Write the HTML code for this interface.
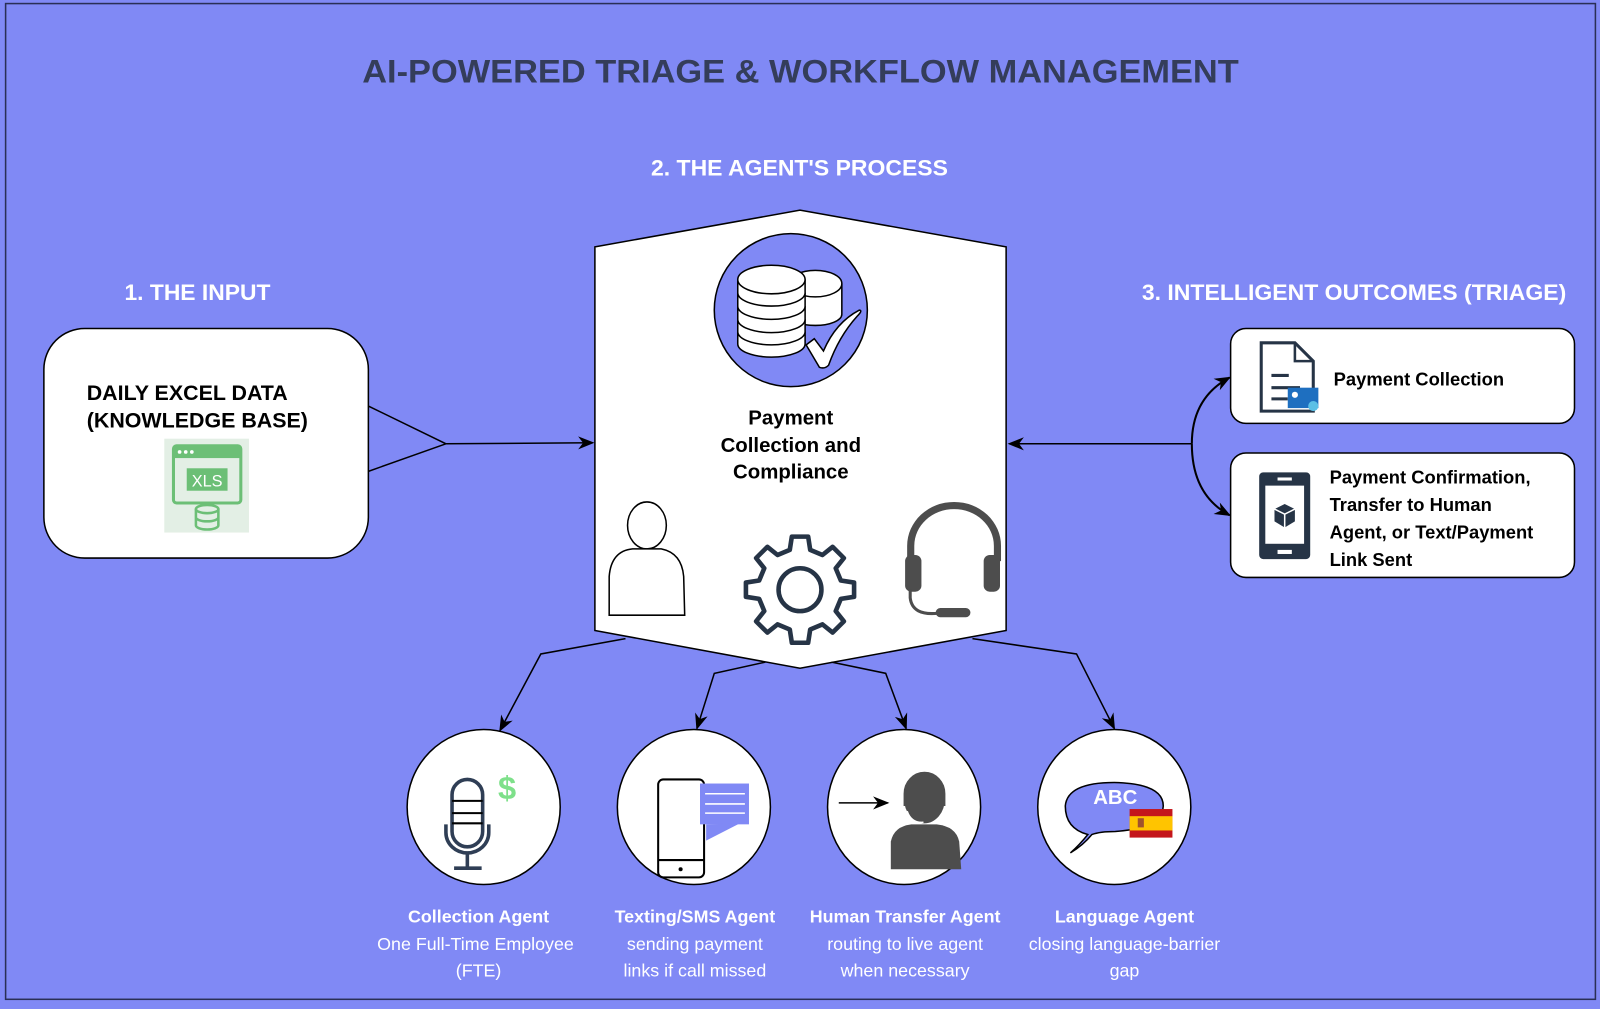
<!DOCTYPE html>
<html><head><meta charset="utf-8"><style>
html,body{margin:0;padding:0;background:#8089f5;}
svg{display:block;}
text{font-family:"Liberation Sans",Arial,sans-serif;}
</style></head><body>
<svg width="1600" height="1009" viewBox="0 0 1568 989" preserveAspectRatio="none" xmlns="http://www.w3.org/2000/svg">
<defs>
<marker id="ar2" viewBox="0 0 10 10" refX="9" refY="5" markerWidth="16" markerHeight="16" orient="auto" markerUnits="userSpaceOnUse"><path d="M0,1 L10,5 L0,9 L3,5 z" fill="#000"/></marker>
</defs>
<rect x="0" y="0" width="1568" height="989" fill="#8089f5"/>
<rect x="5.5" y="3.5" width="1558" height="976" fill="none" stroke="#2a2f55" stroke-width="1.5"/>

<text x="355" y="81" textLength="859" lengthAdjust="spacingAndGlyphs" font-size="32" font-weight="bold" fill="#343d5a">AI-POWERED TRIAGE &amp; WORKFLOW MANAGEMENT</text>
<text x="638" y="172" textLength="291" lengthAdjust="spacingAndGlyphs" font-size="22" font-weight="bold" fill="#fff">2. THE AGENT'S PROCESS</text>
<text x="122" y="294" textLength="143" lengthAdjust="spacingAndGlyphs" font-size="22" font-weight="bold" fill="#fff">1. THE INPUT</text>
<text x="1119" y="294" textLength="416" lengthAdjust="spacingAndGlyphs" font-size="22" font-weight="bold" fill="#fff">3. INTELLIGENT OUTCOMES (TRIAGE)</text>

<!-- input box -->
<rect x="43" y="322" width="318" height="225" rx="40" fill="#fff" stroke="#000" stroke-width="1.5"/>
<text x="85" y="392" font-size="21" font-weight="bold" fill="#000">DAILY EXCEL DATA</text>
<text x="85" y="419" font-size="21" font-weight="bold" fill="#000">(KNOWLEDGE BASE)</text>
<rect x="161" y="430" width="83" height="92" fill="#e3efe5"/>
<rect x="170" y="437" width="66" height="56" rx="3" fill="none" stroke="#6cbf76" stroke-width="3"/>
<rect x="170" y="437" width="66" height="12" fill="#6cbf76"/>
<circle cx="176" cy="443" r="1.8" fill="#fff"/><circle cx="182" cy="443" r="1.8" fill="#fff"/><circle cx="188" cy="443" r="1.8" fill="#fff"/>
<rect x="183" y="459" width="40" height="22" fill="#6cbf76"/>
<text x="203" y="477" text-anchor="middle" font-size="16" fill="#fff">XLS</text>
<ellipse cx="203" cy="499" rx="11" ry="4" fill="#e3efe5" stroke="#6cbf76" stroke-width="2.5"/>
<path d="M192,499 v16 a11,4 0 0 0 22,0 v-16 M192,507 a11,4 0 0 0 22,0" fill="none" stroke="#6cbf76" stroke-width="2.5"/>

<path d="M361,398 L437,435 L361,462" fill="none" stroke="#000" stroke-width="1.5"/>
<line x1="437" y1="435" x2="581" y2="434" stroke="#000" stroke-width="1.5" marker-end="url(#ar2)"/>

<polygon points="583,242 784,206 986,242 986,618 784,655 583,618" fill="#fff" stroke="#000" stroke-width="1.5"/>
<circle cx="775" cy="304" r="75" fill="#8089f5" stroke="#000" stroke-width="1.5"/>
<g fill="#fff" stroke="#000" stroke-width="1.5">
<path d="M773,278 v30 a26,11 0 0 0 52,0 v-30"/>
<ellipse cx="799" cy="278" rx="26" ry="13"/>
<path d="M723,325 v12 a33,13 0 0 0 66,0 v-12"/>
<path d="M723,313 v12 a33,13 0 0 0 66,0 v-12"/>
<path d="M723,300 v13 a33,13 0 0 0 66,0 v-13"/>
<path d="M723,287 v13 a33,13 0 0 0 66,0 v-13"/>
<path d="M723,274 v13 a33,13 0 0 0 66,0 v-13"/>
<ellipse cx="756" cy="274" rx="33" ry="14"/>
<path d="M790,338 l8,-6 l9,12 q12,-28 35,-40 q4,0 -2,6 q-18,20 -28,48 q-4,4 -9,2 z"/>
</g>
<text x="775" y="416" text-anchor="middle" font-size="20" font-weight="bold" fill="#000">Payment</text>
<text x="775" y="443" text-anchor="middle" font-size="20" font-weight="bold" fill="#000">Collection and</text>
<text x="775" y="469" text-anchor="middle" font-size="20" font-weight="bold" fill="#000">Compliance</text>
<ellipse cx="634" cy="515" rx="19" ry="23" fill="#fff" stroke="#000" stroke-width="1.5"/>
<path d="M597,603 L597,565 Q599,540 620,538 L648,538 Q668,542 670,565 L671,603 Z" fill="#fff" stroke="#000" stroke-width="1.5"/>
<g transform="translate(784,577)" fill="none" stroke="#263446" stroke-width="4.5" stroke-linejoin="round">
<path d="M-8,-51 L8,-51 L10,-38 L22,-33 L32,-41 L43,-30 L35,-20 L40,-8 L53,-6 L53,8 L40,10 L35,22 L43,32 L32,43 L22,35 L10,40 L8,53 L-8,53 L-10,40 L-22,35 L-32,43 L-43,32 L-35,22 L-40,10 L-53,8 L-53,-6 L-40,-8 L-35,-20 L-43,-30 L-32,-41 L-22,-33 L-10,-38 Z"/>
<circle cx="0" cy="1" r="21"/>
</g>
<g fill="#4d4d4d">
<path d="M889,550 v-15 a46,43 0 0 1 92,0 v15 h-7 v-15 a39,36 0 0 0 -78,0 v15 z"/>
<rect x="887" y="544" width="16" height="36" rx="6"/>
<rect x="964" y="544" width="16" height="36" rx="6"/>
<path d="M892,578 v8 q2,18 28,15" fill="none" stroke="#4d4d4d" stroke-width="3"/>
<rect x="917" y="596" width="34" height="9" rx="4.5"/>
</g>

<line x1="1168" y1="435" x2="989" y2="435" stroke="#000" stroke-width="1.5" marker-end="url(#ar2)"/>
<path d="M1168,435 Q1168,390 1205,370" fill="none" stroke="#000" stroke-width="2" marker-end="url(#ar2)"/>
<path d="M1168,435 Q1168,485 1205,505" fill="none" stroke="#000" stroke-width="2" marker-end="url(#ar2)"/>

<rect x="1206" y="322" width="337" height="93" rx="15" fill="#fff" stroke="#000" stroke-width="1.5"/>
<path d="M1236,336 h33 l18,18 v49 h-51 z" fill="#fff" stroke="#263446" stroke-width="3"/>
<path d="M1269,336 v18 h18" fill="none" stroke="#263446" stroke-width="2.5"/>
<line x1="1246" y1="368" x2="1263" y2="368" stroke="#263446" stroke-width="3"/>
<line x1="1246" y1="380" x2="1274" y2="380" stroke="#263446" stroke-width="3"/>
<line x1="1246" y1="391" x2="1262" y2="391" stroke="#263446" stroke-width="3"/>
<rect x="1262" y="380" width="30" height="20" fill="#1e6fc0"/>
<circle cx="1269" cy="387" r="3" fill="#fff"/>
<circle cx="1287" cy="398" r="5" fill="#5bc0e6"/>
<text x="1307" y="378" font-size="18" font-weight="bold" fill="#000">Payment Collection</text>

<rect x="1206" y="444" width="337" height="122" rx="15" fill="#fff" stroke="#000" stroke-width="1.5"/>
<rect x="1234" y="463" width="50" height="85" rx="4" fill="#263446"/>
<rect x="1240" y="476" width="38" height="57" fill="#fff"/>
<rect x="1252" y="468" width="14" height="3" fill="#fff"/>
<rect x="1252" y="539" width="14" height="4" fill="#fff"/>
<path d="M1259,494 l10,5 v12 l-10,6 l-10,-6 v-12 z" fill="#263446"/>
<path d="M1249,499 l10,5 l10,-5 M1259,504 v13" fill="none" stroke="#fff" stroke-width="1.5"/>
<text x="1303" y="474" font-size="18" font-weight="bold" fill="#000">Payment Confirmation,</text>
<text x="1303" y="501" font-size="18" font-weight="bold" fill="#000">Transfer to Human</text>
<text x="1303" y="528" font-size="18" font-weight="bold" fill="#000">Agent, or Text/Payment</text>
<text x="1303" y="555" font-size="18" font-weight="bold" fill="#000">Link Sent</text>

<g fill="none" stroke="#000" stroke-width="1.5">
<path d="M613,626 L530,641 L490,716" marker-end="url(#ar2)"/>
<path d="M750,649 L700,660 L683,714" marker-end="url(#ar2)"/>
<path d="M815,649 L868,660 L888,714" marker-end="url(#ar2)"/>
<path d="M953,626 L1055,641 L1092,714" marker-end="url(#ar2)"/>
</g>

<g fill="#fff" stroke="#000" stroke-width="1.5">
<ellipse cx="474" cy="791" rx="75" ry="76"/>
<ellipse cx="680" cy="791" rx="75" ry="76"/>
<ellipse cx="886" cy="791" rx="75" ry="76"/>
<ellipse cx="1092" cy="791" rx="75" ry="76"/>
</g>
<g fill="none" stroke="#2f3e55" stroke-width="3.5">
<rect x="443" y="764" width="30" height="66" rx="15" fill="#fff"/>
<line x1="443" y1="785" x2="473" y2="785" stroke="#000" stroke-width="2"/>
<line x1="443" y1="797" x2="473" y2="797" stroke="#000" stroke-width="2"/>
<line x1="443" y1="807" x2="473" y2="807" stroke="#000" stroke-width="2"/>
<path d="M437,808 v8 a21,20 0 0 0 42,0 v-8"/>
<line x1="458" y1="836" x2="458" y2="850"/>
<line x1="445" y1="851" x2="472" y2="851"/>
</g>
<text x="497" y="783" text-anchor="middle" font-size="32" font-weight="bold" fill="#7ee08a">$</text>
<rect x="645" y="764" width="45" height="96" rx="5" fill="#fff" stroke="#000" stroke-width="2"/>
<line x1="645" y1="843" x2="690" y2="843" stroke="#000" stroke-width="2"/>
<circle cx="667" cy="852" r="2" fill="#000"/>
<rect x="686" y="768" width="48" height="40" fill="#8089f5"/>
<path d="M692,808 l0,16 l33,-17 z" fill="#8089f5"/>
<line x1="691" y1="778" x2="730" y2="778" stroke="#fff" stroke-width="1.5"/>
<line x1="691" y1="788" x2="730" y2="788" stroke="#fff" stroke-width="1.5"/>
<line x1="691" y1="797" x2="730" y2="797" stroke="#fff" stroke-width="1.5"/>
<line x1="822" y1="787" x2="870" y2="787" stroke="#000" stroke-width="1.5" marker-end="url(#ar2)"/>
<ellipse cx="906" cy="783" rx="20" ry="24" fill="#4d4d4d"/>
<path d="M887,790 v-12 a19,20 0 0 1 38,0 v12" fill="none" stroke="#4d4d4d" stroke-width="3"/>
<path d="M873,852 L873,825 Q876,810 893,808 L918,808 Q937,810 940,825 L942,852 Z" fill="#4d4d4d"/>
<path d="M889,795 q4,12 16,11" fill="none" stroke="#fff" stroke-width="1.5"/>
<path d="M1066,818 Q1044,812 1044,790 Q1046,767 1092,767 Q1140,768 1140,790 Q1139,812 1093,815 Q1078,815 1070,818 Q1062,828 1049,836 Q1058,828 1066,818 Z" fill="#8089f5" stroke="#000" stroke-width="1.5"/>
<text x="1093" y="788" text-anchor="middle" font-size="20" font-weight="bold" fill="#fff">ABC</text>
<rect x="1107" y="793" width="42" height="28" fill="#c4161c"/>
<rect x="1107" y="800" width="42" height="14" fill="#ffc400"/>
<rect x="1115" y="802" width="6" height="9" fill="#a0522d"/>

<g font-size="17.5" fill="#fff" text-anchor="middle">
<text x="469" y="904" font-weight="bold">Collection Agent</text>
<text x="466" y="931">One Full-Time Employee</text>
<text x="469" y="957">(FTE)</text>
<text x="681" y="904" font-weight="bold">Texting/SMS Agent</text>
<text x="681" y="931">sending payment</text>
<text x="681" y="957">links if call missed</text>
<text x="887" y="904" font-weight="bold">Human Transfer Agent</text>
<text x="887" y="931">routing to live agent</text>
<text x="887" y="957">when necessary</text>
<text x="1102" y="904" font-weight="bold">Language Agent</text>
<text x="1102" y="931">closing language-barrier</text>
<text x="1102" y="957">gap</text>
</g>
</svg>
</body></html>
